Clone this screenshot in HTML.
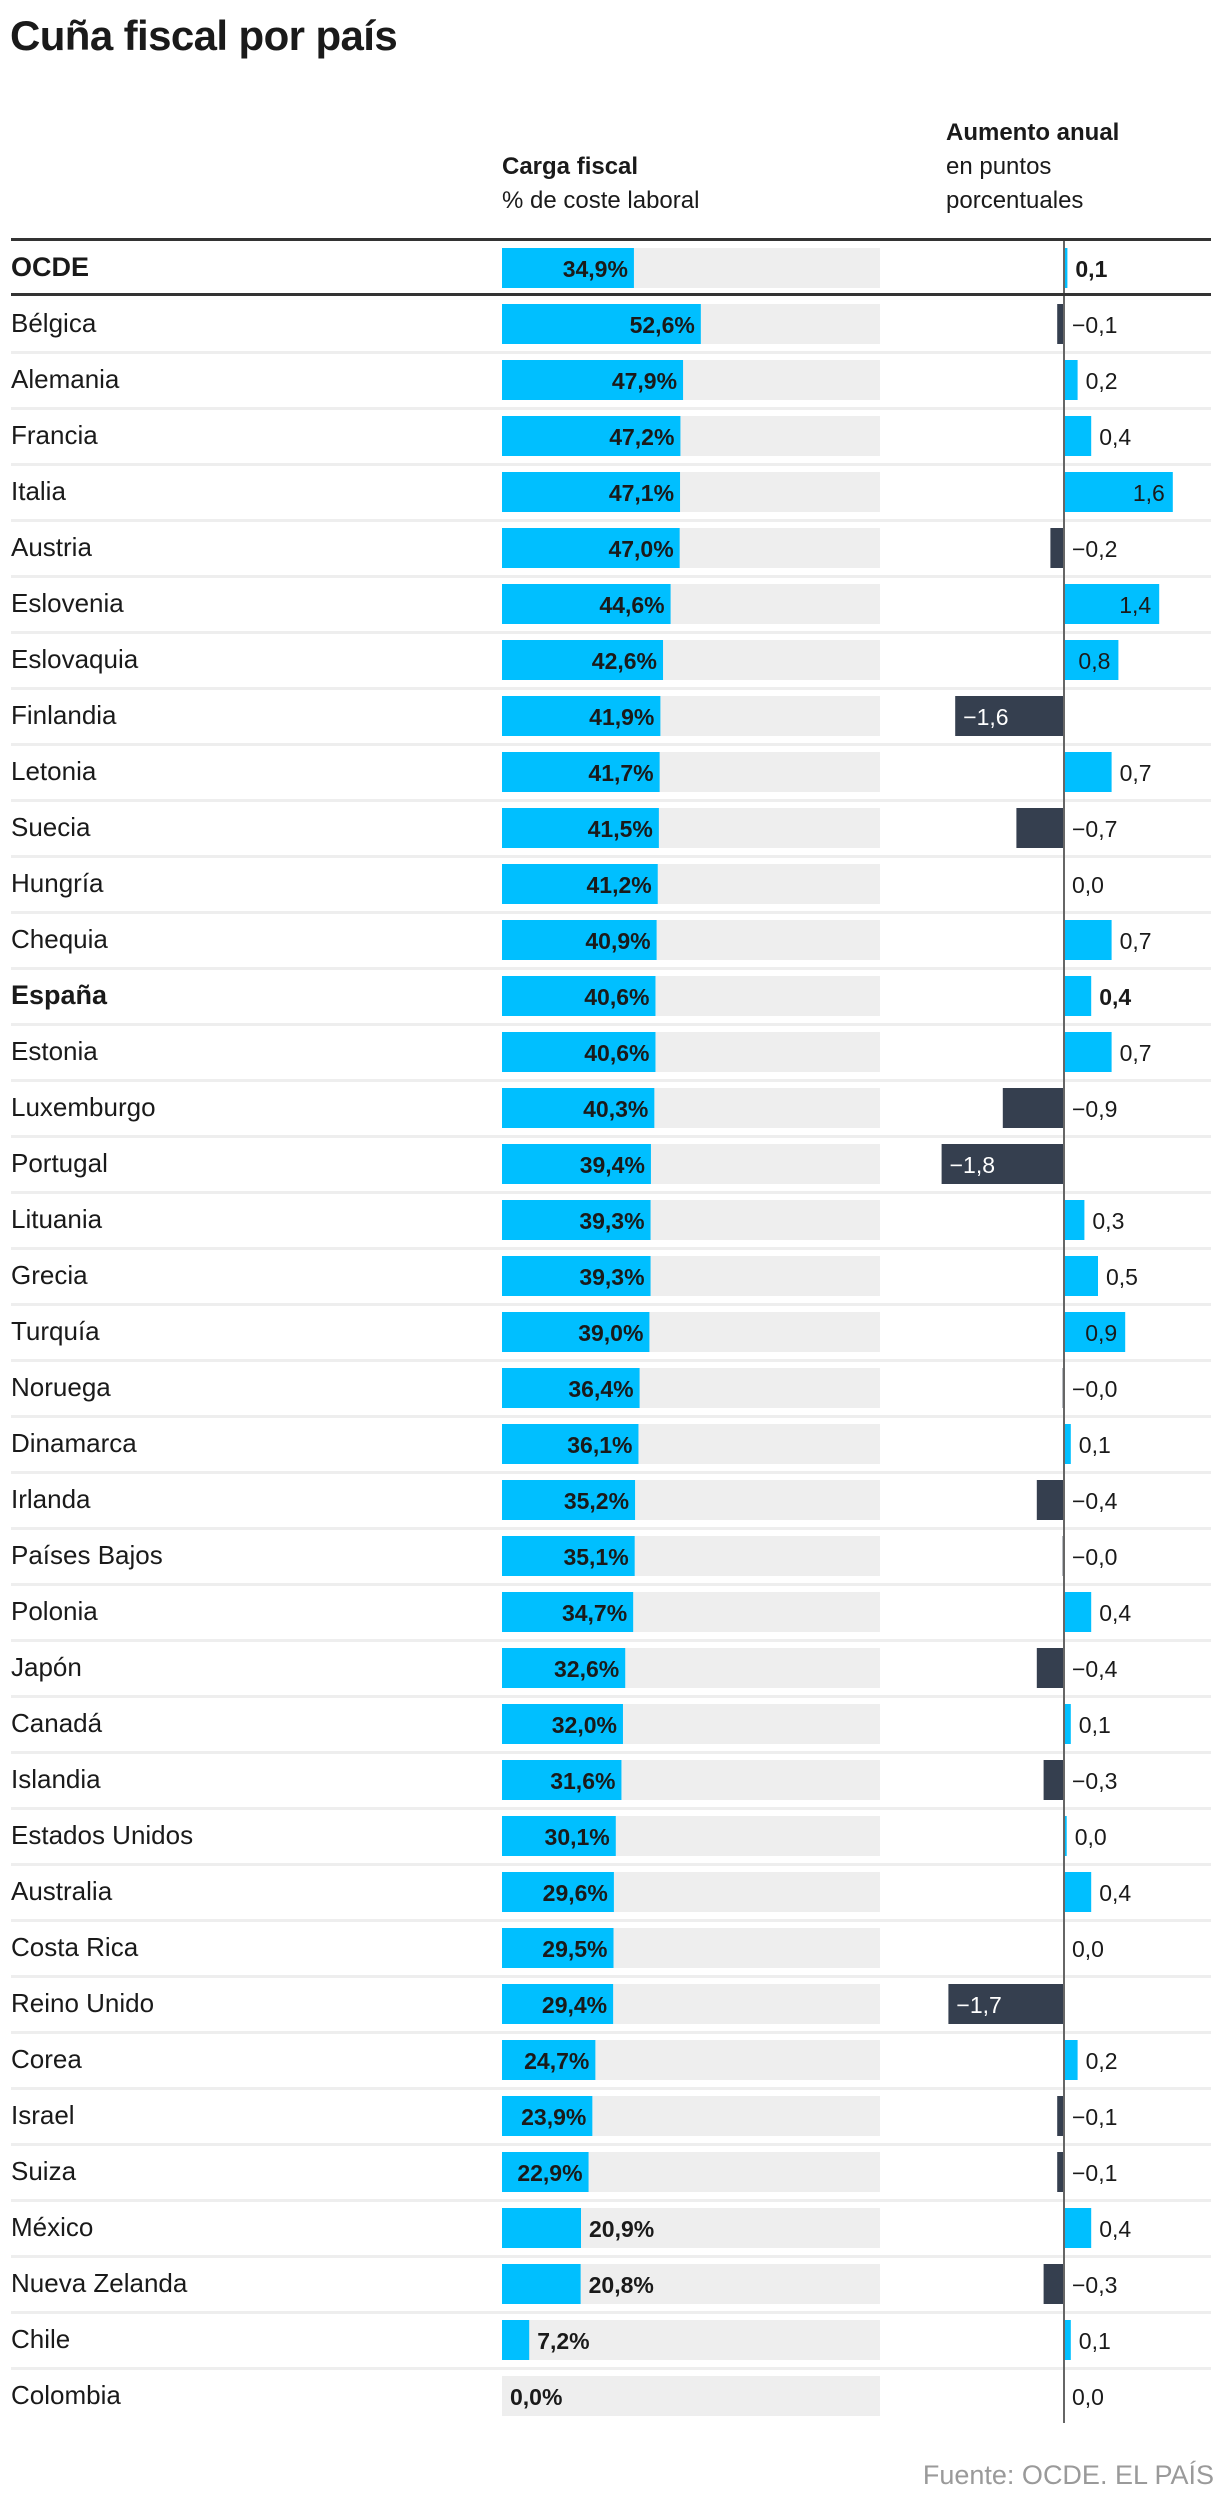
<!DOCTYPE html>
<html><head><meta charset="utf-8">
<style>
body{margin:0;background:#fff;font-family:"Liberation Sans",sans-serif;color:#1a1a1a}
#wrap{position:relative;width:1220px;height:2508px;overflow:hidden}
.abs{position:absolute;white-space:nowrap}
</style></head><body>
<div id="wrap">
<div class="abs" style="left:10px;top:12px;font-size:42px;font-weight:bold;letter-spacing:-0.6px">Cuña fiscal por país</div>
<div class="abs" style="left:502px;top:150px;font-size:24px;line-height:34px"><b>Carga fiscal</b><br>% de coste laboral</div>
<div class="abs" style="left:946px;top:116px;font-size:24px;line-height:34px"><b>Aumento anual</b><br>en puntos<br>porcentuales</div>
<div class="abs" style="right:6px;top:2460px;font-size:27px;color:#9a9a9a">Fuente: OCDE. EL PAÍS</div>
<svg id="chart" class="abs" style="left:0;top:0" width="1220" height="2508"></svg>
</div>
<script>
const countries=["OCDE","Bélgica","Alemania","Francia","Italia","Austria","Eslovenia","Eslovaquia","Finlandia","Letonia","Suecia","Hungría","Chequia","España","Estonia","Luxemburgo","Portugal","Lituania","Grecia","Turquía","Noruega","Dinamarca","Irlanda","Países Bajos","Polonia","Japón","Canadá","Islandia","Estados Unidos","Australia","Costa Rica","Reino Unido","Corea","Israel","Suiza","México","Nueva Zelanda","Chile","Colombia"];
const cargaFiscal=[34.9,52.6,47.9,47.2,47.1,47.0,44.6,42.6,41.9,41.7,41.5,41.2,40.9,40.6,40.6,40.3,39.4,39.3,39.3,39.0,36.4,36.1,35.2,35.1,34.7,32.6,32.0,31.6,30.1,29.6,29.5,29.4,24.7,23.9,22.9,20.9,20.8,7.2,0.0];
const aumento=[0.05,-0.1,0.2,0.4,1.6,-0.2,1.4,0.8,-1.6,0.7,-0.7,0.0,0.7,0.4,0.7,-0.9,-1.8,0.3,0.5,0.9,-0.02,0.1,-0.4,-0.02,0.4,-0.4,0.1,-0.3,0.04,0.4,0.0,-1.7,0.2,-0.1,-0.1,0.4,-0.3,0.1,0.0];
const bold=["OCDE","España"];
const NS="http://www.w3.org/2000/svg";
const svg=document.getElementById('chart');
const rowTop=i=>239+56*i;
const xBar=v=>502+v*3.78;
const xChg=v=>1064+v*68;
const fmt=v=>{const a=Math.abs(v).toFixed(1).replace('.',',');return (v<0?'\u2212':'')+a;};
function mk(t,a){const e=document.createElementNS(NS,t);for(const k in a)e.setAttribute(k,a[k]);svg.appendChild(e);return e;}
countries.forEach((c,i)=>{
  const top=rowTop(i), b=bold.includes(c);
  if(i>1){const s=mk('rect',{x:11,y:top,width:1200,height:3,fill:'#eeeeee'});
    }
  const n=mk('text',{x:11,y:top+37,'font-size':b?27:26,'font-weight':b?'bold':'normal',fill:'#1a1a1a'});
  n.textContent=c;
  
  const tr=mk('rect',{x:502,y:top+9,width:xBar(100)-502,height:40,fill:'#eeeeee'});
  
  const v=cargaFiscal[i];
  const br=mk('rect',{x:502,y:top+9,width:xBar(v)-502,height:40,fill:'#00bfff'});
  
  const inside=v>=22;
  const vl=mk('text',{x:inside?xBar(v)-6:xBar(v)+8,y:top+38,'font-size':23,'font-weight':'bold','text-anchor':inside?'end':'start',fill:'#1a1a1a'});
  vl.textContent=v.toFixed(1).replace('.',',')+'%';
  
  const d=aumento[i];
  const x0=Math.min(xChg(0),xChg(d)),w=Math.abs(xChg(d)-xChg(0));
  const cb=mk('rect',{x:x0,y:top+9,width:w,height:40,fill:d<0?'#353f4f':'#00bfff'});
  
  let lx,anchor='start',col='#1a1a1a';
  if(d>=0.8){lx=xChg(d)-8;anchor='end';}
  else if(d<=-1.2){lx=xChg(d)+8;col='#ffffff';}
  else if(d>0){lx=xChg(d)+8;}
  else lx=xChg(0)+8;
  const cl=mk('text',{x:lx,y:top+38,'font-size':23,'font-weight':b?'bold':'normal','text-anchor':anchor,fill:col});
  cl.textContent=fmt(d);
  
});
const ax=mk('rect',{x:xChg(0)-1,y:239,width:2,height:2423-239,fill:'#666'});

const r1=mk('rect',{x:11,y:238,width:1200,height:3,fill:'#333'});

const r2=mk('rect',{x:11,y:293,width:1200,height:3,fill:'#333'});

</script>
</body></html>
